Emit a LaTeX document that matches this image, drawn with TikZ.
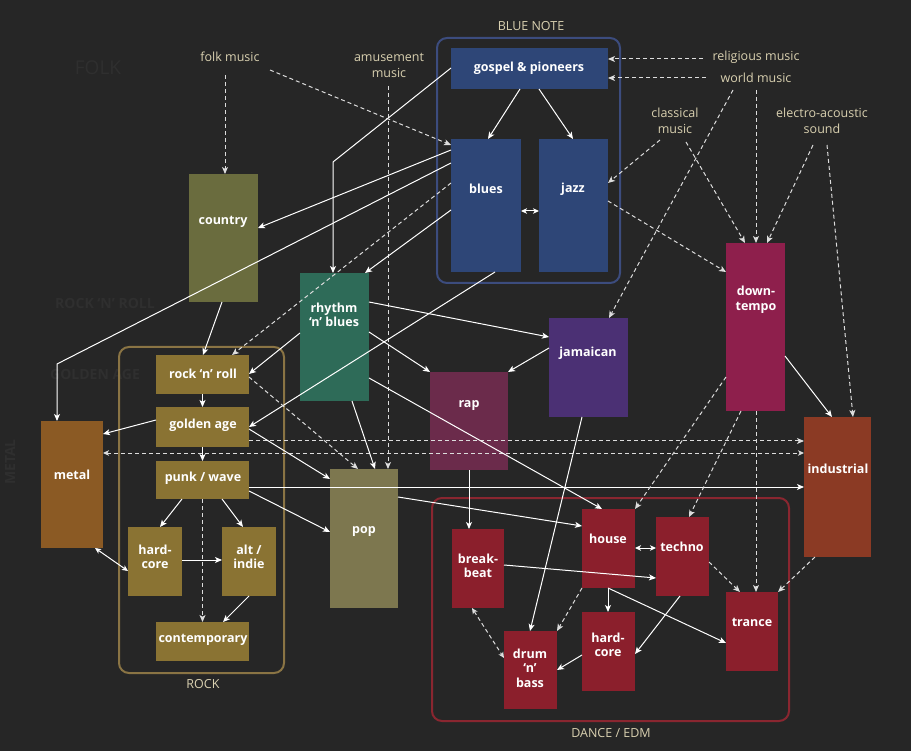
\documentclass[tikz,border=0pt]{standalone}
\usepackage{fontspec}
\setmainfont{Open Sans}
\usetikzlibrary{arrows.meta,fit,calc}
\definecolor{bg}{HTML}{262626}
\definecolor{wmc}{HTML}{2F2F2F}
\definecolor{beige}{HTML}{D9D0B0}
\definecolor{dashc}{HTML}{DDDDDD}
\definecolor{cblue}{HTML}{2E4677}
\definecolor{colive}{HTML}{6A6C3E}
\definecolor{cteal}{HTML}{2E6B58}
\definecolor{cgold}{HTML}{8A7333}
\definecolor{cbrown}{HTML}{8B5A24}
\definecolor{ckhaki}{HTML}{7D774F}
\definecolor{cplum}{HTML}{6B2B4B}
\definecolor{cpurple}{HTML}{4B3074}
\definecolor{cmagenta}{HTML}{8E1F4C}
\definecolor{crust}{HTML}{8B3A24}
\definecolor{cred}{HTML}{8B1F2C}
\definecolor{gblue}{HTML}{3C4C7E}
\definecolor{ggold}{HTML}{8A7444}
\definecolor{gred}{HTML}{8A2630}
\tikzset{
  gbox/.style={inner sep=0pt, outer sep=0pt, draw=none},
  btext/.style={text=white, font=\fontsize{12.5}{14.5}\selectfont\bfseries, align=center, inner sep=0pt},
  ltext/.style={text=beige, font=\fontsize{12.5}{16}\selectfont, align=center, inner sep=1pt},
  wm/.style={text=wmc, font=\fontsize{14}{14}\selectfont\bfseries, inner sep=0pt},
  con/.style={draw=white, line width=1pt, -{Stealth[length=7pt,width=6pt,inset=1.8pt]}},
  dcon/.style={con, draw=dashc, dash pattern=on 4pt off 3pt},
  bicon/.style={con, {Stealth[length=6pt,width=5.5pt,inset=1.6pt]}-{Stealth[length=6pt,width=5.5pt,inset=1.6pt]}},
  bidcon/.style={dcon, {Stealth[length=6pt,width=5.5pt,inset=1.6pt]}-{Stealth[length=6pt,width=5.5pt,inset=1.6pt]}},
  grp/.style={rounded corners=10pt, line width=2pt},
}
\newcommand\gbox[8]{%
  \node[gbox, fill=#6, fit={(#2,#3) (#4,#5)}] (#1) {};
  \node[btext] (#1-t) at (#7) {#8};
}
\begin{document}
\begin{tikzpicture}[x=1pt,y=-1pt]
\fill[bg] (0,0) rectangle (911,751);
\useasboundingbox (0,0) rectangle (911,751);

% faint background words
\node[wm, font=\fontsize{19}{19}\selectfont] (wm1) at (98,68) {FOLK};
\node[wm] (wm4) at (105,303) {ROCK ‘N’ ROLL};
\node[wm] (wm5) at (95,374) {GOLDEN AGE};
\node[wm, rotate=90] (wm6) at (10,462) {METAL};

% group frames
\draw[grp, draw=gblue] (437,38) rectangle (620,283);
\draw[grp, draw=ggold] (119,347) rectangle (284,673);
\draw[grp, draw=gred] (432,498) rectangle (789,721);

% boxes
\gbox{gospel}{451}{48}{608}{89}{cblue}{529,68}{gospel \& pioneers}
\gbox{blues}{451}{139}{521}{272}{cblue}{486,189}{blues}
\gbox{jazz}{539}{139}{608}{272}{cblue}{573,189}{jazz}
\gbox{country}{189}{174}{258}{302}{colive}{223,222}{country}
\gbox{rnb}{300}{273}{369}{401}{cteal}{334,315}{rhythm\\‘n’ blues}
\gbox{rocknroll}{156}{355}{249}{394}{cgold}{203,374}{rock ‘n’ roll}
\gbox{golden}{156}{407}{249}{447}{cgold}{203,425}{golden age}
\gbox{punk}{156}{461}{249}{499}{cgold}{203,478}{punk / wave}
\gbox{hardrock}{128}{527}{182}{596}{cgold}{155,557}{hard-\\core}
\gbox{altindie}{222}{527}{276}{596}{cgold}{249,557}{alt /\\indie}
\gbox{contemp}{156}{622}{249}{661}{cgold}{203,640}{contemporary}
\gbox{metal}{41}{421}{103}{548}{cbrown}{72,475}{metal}
\gbox{pop}{330}{469}{398}{608}{ckhaki}{364,532}{pop}
\gbox{rap}{430}{372}{508}{470}{cplum}{469,406}{rap}
\gbox{jamaican}{549}{318}{628}{417}{cpurple}{588,353}{jamaican}
\gbox{downtempo}{726}{243}{785}{411}{cmagenta}{756,300}{down-\\tempo}
\gbox{industrial}{804}{417}{871}{557}{crust}{838,469}{industrial}
\gbox{breakbeat}{452}{529}{504}{608}{cred}{478,566}{break-\\beat}
\gbox{house}{582}{509}{635}{588}{cred}{608,539}{house}
\gbox{techno}{656}{517}{709}{596}{cred}{682,547}{techno}
\gbox{trance}{726}{592}{778}{671}{cred}{752,622}{trance}
\gbox{dnb}{504}{631}{557}{709}{cred}{530,668}{drum\\‘n’\\bass}
\gbox{hardedm}{582}{612}{635}{691}{cred}{608,645}{hard-\\core}

% outside labels
\node[ltext] (bnl) at (531,26) {BLUE NOTE};
\node[ltext] (rockl) at (203,684) {ROCK};
\node[ltext] (dancel) at (611,733) {DANCE / EDM};
\node[ltext] (folk) at (230,57) {folk music};
\node[ltext] (amuse) at (389,65) {amusement\\music};
\node[ltext] (relig) at (756,57) {religious music};
\node[ltext] (world) at (756,78) {world music};
\node[ltext] (class) at (675,121) {classical\\music};
\node[ltext] (electro) at (822,121) {electro-acoustic\\sound};

% free ends below the labels
\coordinate (folk-a) at (225,75);
\coordinate (folk-b) at (270,70);
\coordinate (amuse-a) at (388,86);
\coordinate (relig-a) at (703,59);
\coordinate (world-a) at (706,78);
\coordinate (world-b) at (756,90);
\coordinate (world-c) at (733,90);
\coordinate (class-a) at (660,140);
\coordinate (class-b) at (686,142);
\coordinate (elec-a) at (813,145);
\coordinate (elec-b) at (827,145);

% connectors: origins
\draw[dcon] (folk-a) -- (country.north -| 225,0);
\draw[dcon] (folk-b) -- (blues.west |- 0,145);
\draw[dcon] (amuse-a) -- (pop.north -| 388,0);
\draw[dcon] (relig-a) -- (gospel.east |- 0,59);
\draw[dcon] (world-a) -- (gospel.east |- 0,78);
\draw[dcon] (world-b) -- (downtempo.north -| 756,0);
\draw[dcon] (world-c) -- (jamaican.north -| 609,0);
\draw[dcon] (class-a) -- (jazz.east |- 0,183);
\draw[dcon] (class-b) -- (downtempo.north -| 745,0);
\draw[dcon] (elec-a) -- (downtempo.north -| 767,0);
\draw[dcon] (elec-b) -- (industrial.north -| 853,0);

% blue note
\draw[con] (gospel.south -| 520,0) -- (blues.north -| 488,0);
\draw[con] (gospel.south -| 539,0) -- (jazz.north -| 573,0);
\draw[bicon] (blues.east |- 0,211) -- (jazz.west |- 0,211);
\draw[con] (gospel.west |- 0,68) -- (333,162) -- (rnb.north -| 333,0);
\draw[con] (blues.west |- 0,150) -- (country.east |- 0,228);
\draw[con] (blues.west |- 0,163) -- (57,364) -- (metal.north -| 57,0);
\draw[dcon] (blues.west |- 0,183) -- (rocknroll.north -| 232,0);
\draw[con] (blues.west |- 0,210) -- (rnb.north -| 365,0);
\draw[con] (blues.south -| 495,0) -- (golden.east |- 0,427);
\draw[dcon] (jazz.east |- 0,201) -- (downtempo.west |- 0,272);

% rock area
\draw[con] (country.south -| 222,0) -- (rocknroll.north -| 203,0);
\draw[con] (rnb.west |- 0,333) -- (rocknroll.east |- 0,374);
\draw[con] (rocknroll.south) -- (golden.north);
\draw[con] (golden.south) -- (punk.north);
\draw[con] (golden.west |- 0,420) -- (metal.east |- 0,434);
\draw[dcon] (golden.east |- 0,441) -- (industrial.west |- 0,441);
\draw[bidcon] (metal.east |- 0,453) -- (industrial.west |- 0,453);
\draw[dcon] (rocknroll.east |- 0,377) -- (pop.north -| 358,0);
\draw[con] (golden.east |- 0,429) -- (pop.west |- 0,479);
\draw[con] (punk.east |- 0,487) -- (industrial.west |- 0,487);
\draw[con] (punk.east |- 0,491) -- (pop.west |- 0,532);
\draw[con] (punk.south -| 182,0) -- (hardrock.north -| 160,0);
\draw[con] (punk.south -| 222,0) -- (altindie.north -| 243,0);
\draw[dcon] (punk.south) -- (contemp.north);
\draw[con] (hardrock.east |- 0,560) -- (altindie.west |- 0,560);
\draw[con] (altindie.south -| 249,0) -- (contemp.north -| 223,0);
\draw[bicon] (metal.south -| 95,0) -- (hardrock.west |- 0,571);

% rhythm n blues
\draw[con] (rnb.south -| 352,0) -- (pop.north -| 375,0);
\draw[con] (rnb.east |- 0,302) -- (jamaican.west |- 0,337);
\draw[con] (rnb.east |- 0,332) -- (rap.north west);
\draw[con] (rnb.east |- 0,378) -- (house.north -| 602,0);
\draw[con] (jamaican.west |- 0,348) -- (rap.north east);
\draw[con] (jamaican.south -| 582,0) -- (dnb.north -| 530,0);
\draw[con] (rap.south -| 469,0) -- (breakbeat.north -| 469,0);
\draw[con] (pop.east |- 0,497) -- (house.west |- 0,526);

% down-tempo & industrial
\draw[con] (downtempo.east |- 0,356) -- (industrial.north -| 832,0);
\draw[dcon] (downtempo.west |- 0,377) -- (house.north east);
\draw[dcon] (downtempo.south -| 741,0) -- (techno.north -| 689,0);
\draw[dcon] (downtempo.south -| 756,0) -- (trance.north -| 756,0);
\draw[dcon] (industrial.south -| 815,0) -- (trance.north east);

% dance / edm
\draw[con] (breakbeat.east |- 0,565) -- (techno.west |- 0,578);
\draw[bicon] (house.east |- 0,548) -- (techno.west |- 0,548);
\draw[con] (house.south -| 608,0) -- (hardedm.north -| 608,0);
\draw[con] (house.south -| 608,0) -- (trance.west |- 0,643);
\draw[dcon] (techno.east |- 0,562) -- (trance.north -| 740,0);
\draw[con] (techno.south -| 680,0) -- (hardedm.east |- 0,654);
\draw[con] (hardedm.west |- 0,655) -- (dnb.east |- 0,670);
\draw[dcon] (house.south west) -- (dnb.north east);
\draw[bidcon] (breakbeat.south -| 472,0) -- (dnb.west |- 0,658);
\end{tikzpicture}
\end{document}
